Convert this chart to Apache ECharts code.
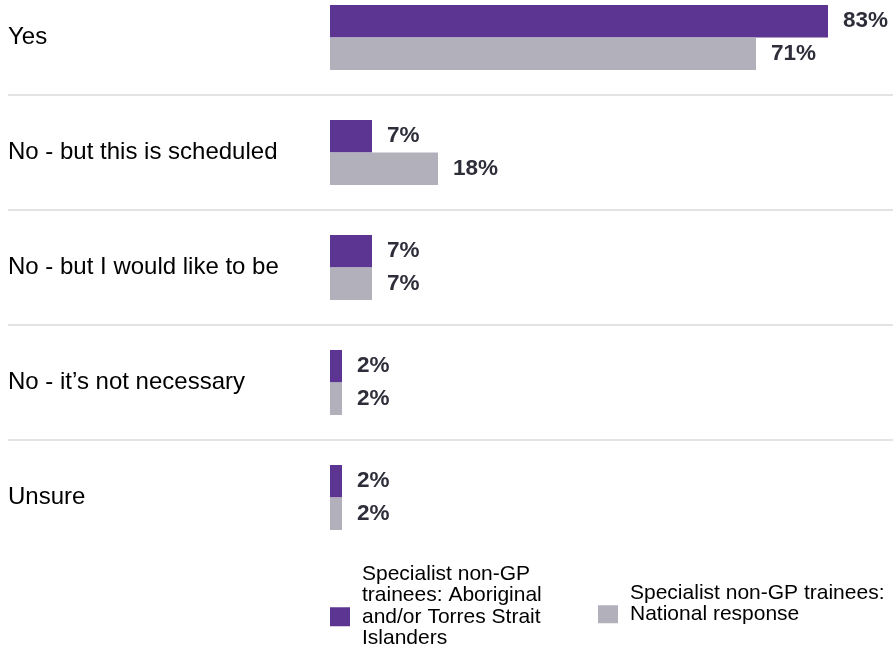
<!DOCTYPE html>
<html>
<head>
<meta charset="utf-8">
<script src="https://cdn.jsdelivr.net/npm/echarts@6/dist/echarts.min.js"></script>
<style>html,body{margin:0;padding:0;background:#fff}#c{width:893px;height:651px}</style>
</head>
<body>
<div id="c"></div>
<script>
const categories = ['Yes', 'No - but this is scheduled', 'No - but I would like to be', 'No - it\u2019s not necessary', 'Unsure'];
const seriesNames = ['Specialist non-GP trainees: Aboriginal and/or Torres Strait Islanders', 'Specialist non-GP trainees: National response'];
const legendLabels = ['Specialist non-GP\ntrainees: Aboriginal\nand/or Torres Strait\nIslanders', 'Specialist non-GP trainees:\nNational response'];
const aboriginalValues = [83, 7, 7, 2, 2];
const nationalValues = [71, 18, 7, 2, 2];

const FONT = '"Liberation Sans", Arial, sans-serif';
const PURPLE = '#5B3591';
const GREY = '#B1B0BB';

const chart = echarts.init(document.getElementById('c'), null, {renderer: 'canvas'});
const labelCfg = {
  show: true, position: 'right', distance: 15,
  formatter: '{c}%', fontFamily: FONT, fontWeight: 'bold', fontSize: 22.5, color: '#2E2E3A'
};
const legendText = {fontFamily: FONT, fontSize: 21, lineHeight: 21.5, color: '#000', padding: [0, 0, 0, 7]};
chart.setOption({
  animation: false,
  backgroundColor: '#fff',
  grid: {left: 8, right: 0, top: -20, bottom: 96, containLabel: false, outerBoundsMode: 'none'},
  xAxis: {
    type: 'value', min: -53.667, max: 93.833, show: false
  },
  yAxis: {
    type: 'category', data: categories, inverse: true,
    axisLine: {show: false, onZero: false}, axisTick: {show: false},
    axisLabel: {align: 'left', margin: 0, fontFamily: FONT, fontSize: 24, color: '#000'},
    splitLine: {show: true, showMinLine: false, showMaxLine: false, lineStyle: {color: '#DADADA', width: 1.5}}
  },
  legend: [
    {data: [seriesNames[0]], left: 330, top: 563, padding: 0, icon: 'rect', itemWidth: 20, itemHeight: 19,
     formatter: () => legendLabels[0] + '\n\u00a0', textStyle: legendText},
    {data: [seriesNames[1]], left: 598, top: 582, padding: 0, icon: 'rect', itemWidth: 20, itemHeight: 18,
     formatter: () => legendLabels[1] + '\n\u00a0', textStyle: legendText}
  ],
  series: [
    {name: seriesNames[0], type: 'bar', data: aboriginalValues, barWidth: 32.5, barGap: '0%',
     itemStyle: {color: PURPLE}, label: labelCfg},
    {name: seriesNames[1], type: 'bar', data: nationalValues, barWidth: 32.5, barGap: '0%',
     itemStyle: {color: GREY}, label: labelCfg}
  ]
});
</script>
</body>
</html>
